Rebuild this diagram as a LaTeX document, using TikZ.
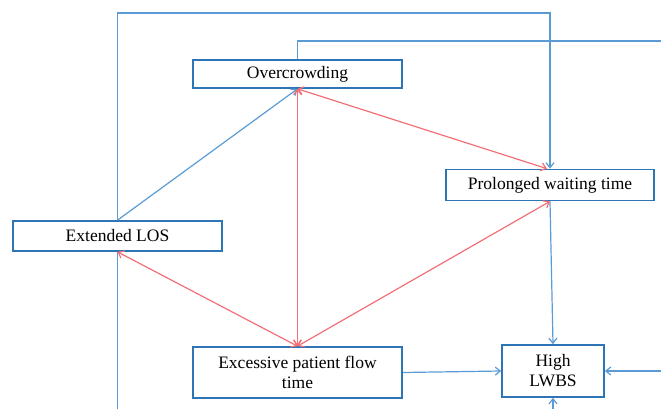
\documentclass[tikz,border=0pt]{standalone}
\usepackage{fontspec}
\setmainfont{Liberation Serif}
\usetikzlibrary{arrows.meta}
\definecolor{boxblue}{HTML}{2E75B6}
\definecolor{lineblue}{HTML}{5B9BD5}
\definecolor{linered}{HTML}{F27075}
\begin{document}
\begin{tikzpicture}[x=1pt,y=-1pt,
  box/.style={draw=boxblue,line width=1.7pt,fill=white,inner sep=0pt,align=center,font=\fontsize{17.5}{20}\selectfont},
  bl/.style={draw=lineblue,line width=1.2pt},
  rd/.style={draw=linered,line width=1.2pt},
  tip/.style={arrows={-Straight Barb[length=5pt,width=8pt]}},
  dtip/.style={arrows={Straight Barb[length=5pt,width=8pt]-Straight Barb[length=5pt,width=8pt]}}]
\useasboundingbox (0,0) rectangle (661,409);
\node[box,minimum width=209pt,minimum height=28pt] (over) at (297.5,74) {Overcrowding};
\node[box,minimum width=208pt,minimum height=31pt] (prol) at (550,185) {Prolonged waiting time};
\node[box,minimum width=209pt,minimum height=30pt] (ext) at (117.5,236) {Extended LOS};
\node[box,minimum width=209pt,minimum height=51pt] (exc) at (297.5,372.5) {Excessive patient flow\\time};
\node[box,minimum width=102pt,minimum height=52pt] (high) at (553,371) {High\\LWBS};
\coordinate (c1) at (550,13);
\coordinate (c2) at (661,41);
\coordinate (c3) at (117.5,409);
\coordinate (c4) at (661,371);
\coordinate (c5) at (553,409);
% blue connectors
\draw[bl,tip] (ext.north) |- (c1) -- (prol.north);
\draw[bl] (over.north) |- (c2);
\draw[bl] (ext.south) -- (c3);
\draw[bl,tip] (ext.north) -- (over.south);
\draw[bl,tip] (prol.south) -- (high.north);
\draw[bl,tip] (exc.east) -- (high.west);
\draw[bl,tip] (c4) -- (high.east);
\draw[bl,tip] (c5) -- (high.south);
% red connectors
\draw[rd,dtip] (over.south) -- (exc.north);
\draw[rd,dtip] (over.south) -- ([xshift=-3pt]prol.north);
\draw[rd,dtip] (ext.south) -- (exc.north);
\draw[rd,dtip] (exc.north) -- (prol.south);
\end{tikzpicture}
\end{document}
